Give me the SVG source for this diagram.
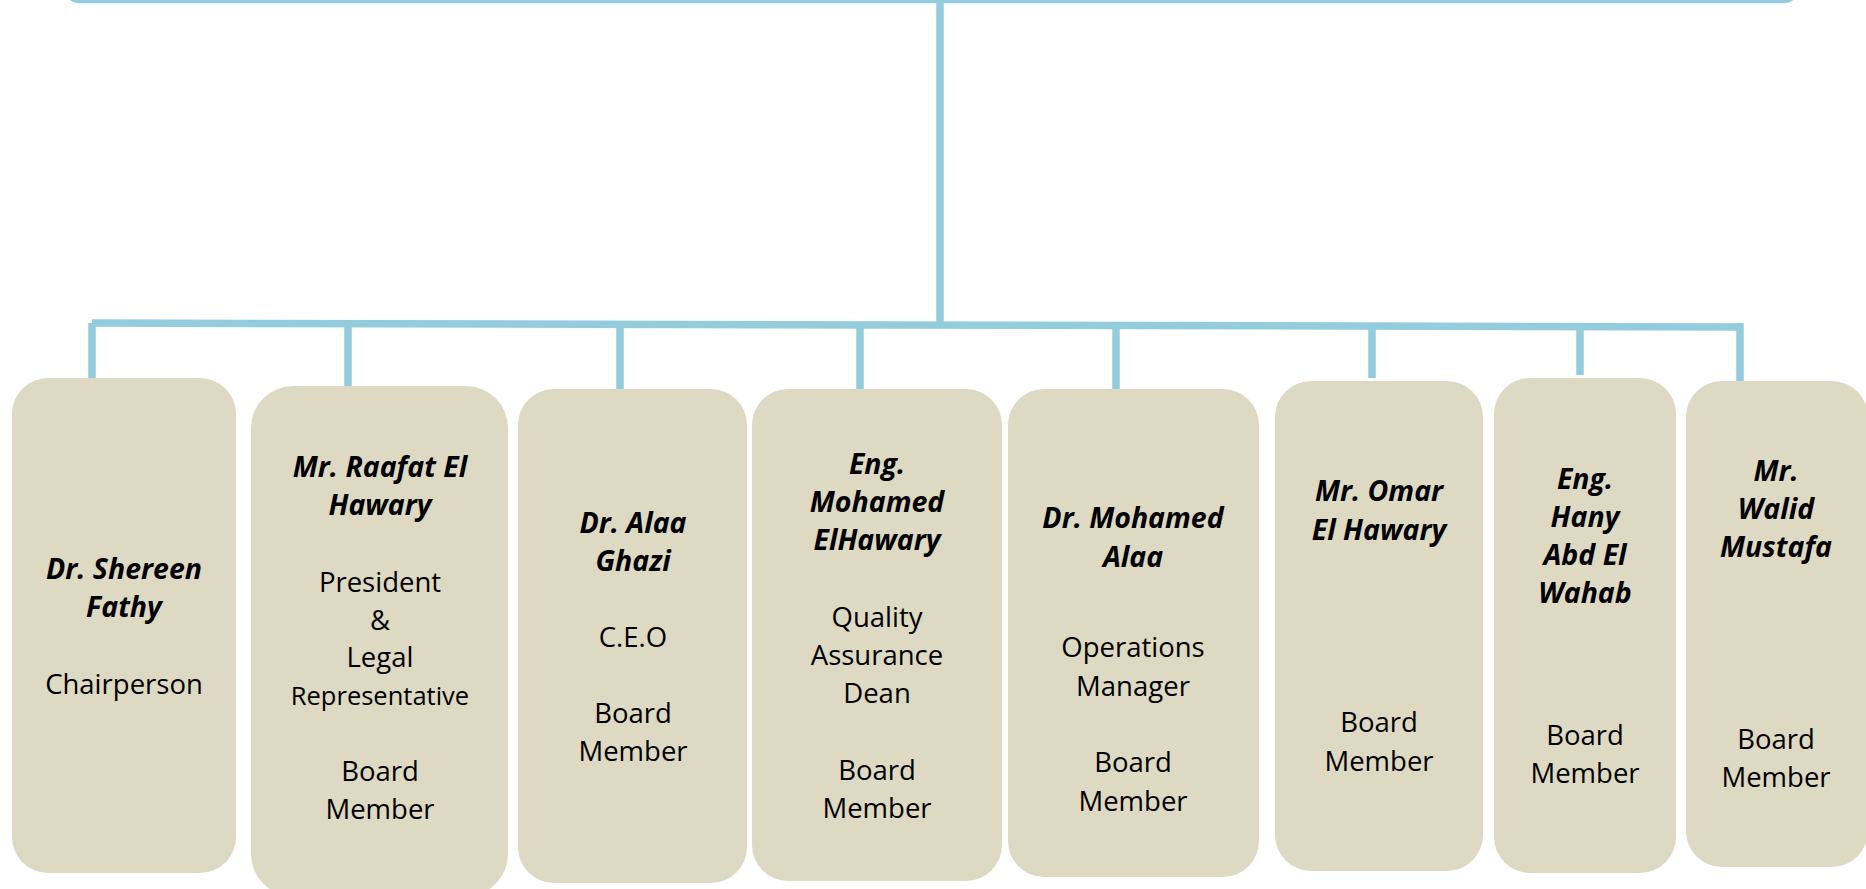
<svg xmlns="http://www.w3.org/2000/svg" width="1866" height="889" viewBox="0 0 1866 889">
<style>
.box{fill:#DDD9C3;stroke:none}
.ln{stroke:#93CDDD;stroke-width:7.5;fill:none}
text{font-family:"Open Sans","Noto Sans","Liberation Sans",sans-serif;font-size:27.5px;fill:#000;text-anchor:middle}
.n{font-weight:bold;font-style:italic;font-size:28.5px}
.sm{font-size:25.5px}
</style>
<rect width="1866" height="889" fill="#fff"/>
<g id="top">
<rect x="64" y="-40" width="1735" height="41.5" rx="16" fill="#fff" stroke="#93CDDD" stroke-width="3.5"/>
</g>
<g id="connectors">
<line class="ln" x1="940" y1="0" x2="940" y2="325"/>
<line class="ln" x1="92" y1="323" x2="1740" y2="327"/>
<line class="ln" x1="92" y1="323" x2="92" y2="381"/>
<line class="ln" x1="348" y1="324" x2="348" y2="386"/>
<line class="ln" x1="620" y1="324" x2="620" y2="402"/>
<line class="ln" x1="860" y1="325" x2="860" y2="390"/>
<line class="ln" x1="1116" y1="326" x2="1116" y2="390"/>
<line class="ln" x1="1372" y1="326" x2="1372" y2="378"/>
<line class="ln" x1="1580" y1="327" x2="1580" y2="375"/>
<line class="ln" x1="1740" y1="323" x2="1740" y2="381"/>
</g>
<g id="n1">
<rect class="box" x="12" y="378" width="224" height="495" rx="36"/>
<text x="124" y="579" class="n">Dr. Shereen</text>
<text x="124" y="617" class="n">Fathy</text>
<text x="124" y="694">Chairperson</text>
</g>
<g id="n2">
<rect class="box" x="251" y="386" width="257" height="510" rx="42"/>
<text x="380" y="477" class="n">Mr. Raafat El</text>
<text x="380" y="515" class="n">Hawary</text>
<text x="380" y="592">President</text>
<text x="380" y="630">&amp;</text>
<text x="380" y="667">Legal</text>
<text x="380" y="705" class="sm">Representative</text>
<text x="380" y="781">Board</text>
<text x="380" y="819">Member</text>
</g>
<g id="n3">
<rect class="box" x="518" y="389" width="229" height="494" rx="36"/>
<text x="633" y="533" class="n">Dr. Alaa</text>
<text x="633" y="571" class="n">Ghazi</text>
<text x="633" y="647">C.E.O</text>
<text x="633" y="723">Board</text>
<text x="633" y="761">Member</text>
</g>
<g id="n4">
<rect class="box" x="752" y="389" width="250" height="492" rx="36"/>
<text x="877" y="474" class="n">Eng.</text>
<text x="877" y="512" class="n">Mohamed</text>
<text x="877" y="550" class="n">ElHawary</text>
<text x="877" y="627">Quality</text>
<text x="877" y="665">Assurance</text>
<text x="877" y="703">Dean</text>
<text x="877" y="780">Board</text>
<text x="877" y="818">Member</text>
</g>
<g id="n5">
<rect class="box" x="1008" y="389" width="251" height="488" rx="36"/>
<text x="1133" y="528" class="n">Dr. Mohamed</text>
<text x="1133" y="567" class="n">Alaa</text>
<text x="1133" y="657">Operations</text>
<text x="1133" y="696">Manager</text>
<text x="1133" y="772">Board</text>
<text x="1133" y="811">Member</text>
</g>
<g id="n6">
<rect class="box" x="1275" y="381" width="208" height="490" rx="36"/>
<text x="1379" y="501" class="n">Mr. Omar</text>
<text x="1379" y="540" class="n">El Hawary</text>
<text x="1379" y="732">Board</text>
<text x="1379" y="771">Member</text>
</g>
<g id="n7">
<rect class="box" x="1494" y="378" width="182" height="495" rx="36"/>
<text x="1585" y="489" class="n">Eng.</text>
<text x="1585" y="527" class="n">Hany</text>
<text x="1585" y="565" class="n">Abd El</text>
<text x="1585" y="603" class="n">Wahab</text>
<text x="1585" y="745">Board</text>
<text x="1585" y="783">Member</text>
</g>
<g id="n8">
<rect class="box" x="1686" y="381" width="182" height="486" rx="36"/>
<text x="1776" y="481" class="n">Mr.</text>
<text x="1776" y="519" class="n">Walid</text>
<text x="1776" y="557" class="n">Mustafa</text>
<text x="1776" y="749">Board</text>
<text x="1776" y="787">Member</text>
</g>
</svg>
